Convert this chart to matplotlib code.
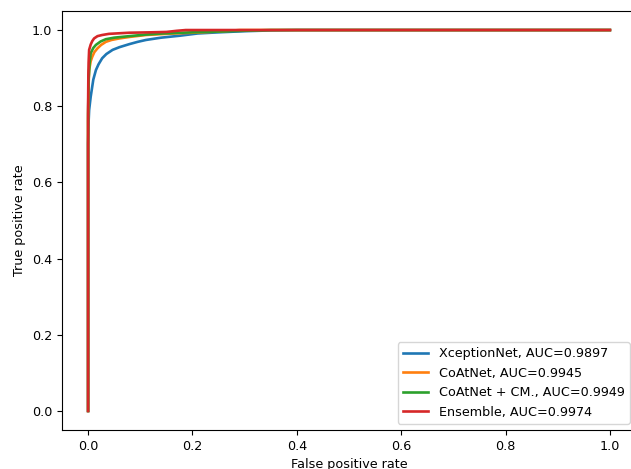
import matplotlib
matplotlib.use("Agg")
import matplotlib.pyplot as plt

plt.rcParams["font.size"] = 9.2

labels = ["XceptionNet, AUC=0.9897", "CoAtNet, AUC=0.9945",
          "CoAtNet + CM., AUC=0.9949", "Ensemble, AUC=0.9974"]
colors = ["#1f77b4", "#ff7f0e", "#2ca02c", "#d62728"]

xcep_fpr = [0.0, 0.0, 0.001, 0.002, 0.005, 0.010, 0.015, 0.020, 0.027, 0.035, 0.047, 0.060, 0.079, 0.095, 0.111, 0.140, 0.175, 0.210, 0.250, 0.300, 0.350, 0.400, 1.0]
xcep_tpr = [0.0, 0.70, 0.76, 0.79, 0.825, 0.870, 0.895, 0.910, 0.926, 0.937, 0.948, 0.955, 0.963, 0.969, 0.974, 0.980, 0.985, 0.991, 0.994, 0.997, 0.999, 1.0, 1.0]

coat_fpr = [0.0, 0.0, 0.001, 0.002, 0.005, 0.008, 0.012, 0.018, 0.025, 0.034, 0.045, 0.060, 0.080, 0.111, 0.150, 0.200, 0.250, 0.290, 1.0]
coat_tpr = [0.0, 0.76, 0.86, 0.895, 0.918, 0.930, 0.942, 0.952, 0.961, 0.969, 0.974, 0.978, 0.982, 0.987, 0.990, 0.993, 0.996, 1.0, 1.0]

cm_fpr = [0.0, 0.0, 0.001, 0.003, 0.005, 0.010, 0.015, 0.024, 0.034, 0.050, 0.079, 0.110, 0.142, 0.200, 0.250, 0.296, 0.350, 1.0]
cm_tpr = [0.0, 0.78, 0.87, 0.915, 0.939, 0.953, 0.961, 0.970, 0.976, 0.980, 0.984, 0.988, 0.991, 0.994, 0.996, 0.998, 1.0, 1.0]

ens_fpr = [0.0, 0.0, 0.0005, 0.001, 0.002, 0.005, 0.008, 0.0115, 0.018, 0.027, 0.040, 0.079, 0.120, 0.150, 0.170, 0.187, 1.0]
ens_tpr = [0.0, 0.80, 0.88, 0.915, 0.948, 0.962, 0.971, 0.978, 0.984, 0.987, 0.990, 0.993, 0.994, 0.995, 0.998, 1.0, 1.0]

series_fpr = [xcep_fpr, coat_fpr, cm_fpr, ens_fpr]
series_tpr = [xcep_tpr, coat_tpr, cm_tpr, ens_tpr]

fig = plt.figure(figsize=(6.31, 4.69), dpi=100)
ax = fig.add_axes([62/631, 39/469, 574/631, 419/469])
for f, t, lab, c in zip(series_fpr, series_tpr, labels, colors):
    ax.plot(f, t, color=c, lw=1.9, label=lab)
ax.set_xlabel("False positive rate")
ax.set_ylabel("True positive rate")
ax.legend(loc="lower right")
fig.savefig("out.png", dpi=100)
